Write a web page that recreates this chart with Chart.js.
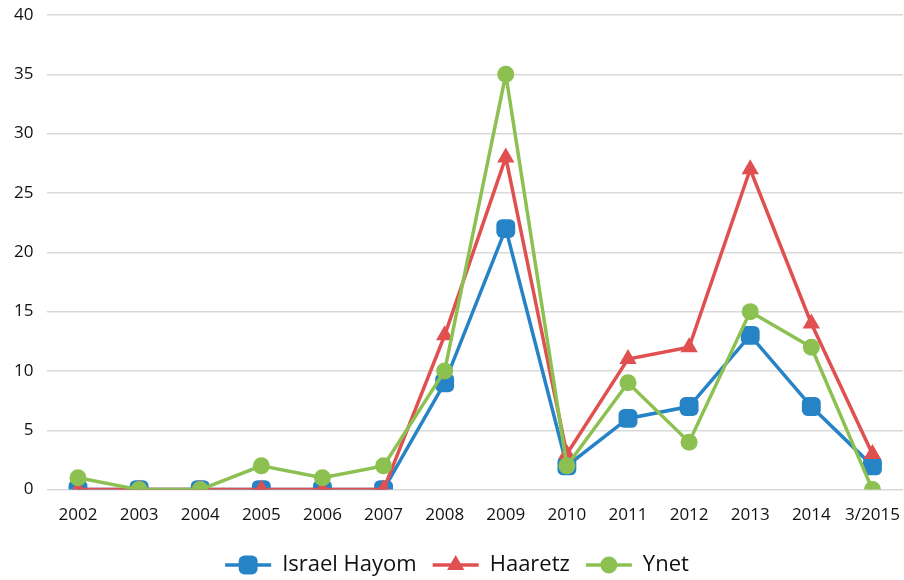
<!DOCTYPE html>
<html>
<head>
<meta charset="utf-8">
<script src="https://cdn.jsdelivr.net/npm/chart.js@4/dist/chart.umd.min.js"></script>
<style>
    html, body { margin: 0; padding: 0; background: #fff; overflow: hidden; }
    #wrap { width: 904px; height: 580px; overflow: hidden; }
</style>
</head>
<body>
<div id="wrap"><canvas id="chart" width="914" height="580"></canvas></div>
<script>
// Data
const years = ['2002', '2003', '2004', '2005', '2006', '2007', '2008', '2009', '2010', '2011', '2012', '2013', '2014', '3/2015'];
const israelHayom = [0, 0, 0, 0, 0, 0, 9, 22, 2, 6, 7, 13, 7, 2];
const haaretz = [0, 0, 0, 0, 0, 0, 13, 28, 3, 11, 12, 27, 14, 3];
const ynet = [1, 0, 0, 2, 1, 2, 10, 35, 2, 9, 4, 15, 12, 0];

const blue = '#2683c6';
const red = '#e05050';
const green = '#8cc152';
const fontFamily = "'Open Sans', 'DejaVu Sans', sans-serif";

function series(label, data, color, style, radius, order) {
    return {
        label: label,
        data: data,
        order: order,
        borderColor: color,
        backgroundColor: color,
        borderWidth: 3.5,
        pointStyle: style,
        pointRadius: radius,
        pointBorderWidth: 0,
        pointHoverRadius: radius,
        tension: 0
    };
}

// Draw Excel-like legend keys: a line with the marker on top
const legendKeys = {
    id: 'legendKeys',
    afterDraw(chart) {
        const legend = chart.legend;
        if (!legend || !legend.legendHitBoxes) return;
        const ctx = chart.ctx;
        const boxWidth = legend.options.labels.pointStyleWidth;
        legend.legendItems.forEach((item, i) => {
            const box = legend.legendHitBoxes[i];
            const ds = chart.data.datasets[item.datasetIndex];
            const cy = box.top + box.height / 2;
            ctx.save();
            ctx.strokeStyle = ds.borderColor;
            ctx.lineWidth = 3.5;
            ctx.beginPath();
            ctx.moveTo(box.left, cy);
            ctx.lineTo(box.left + boxWidth, cy);
            ctx.stroke();
            ctx.fillStyle = ds.backgroundColor;
            ctx.strokeStyle = ds.backgroundColor;
            Chart.helpers.drawPoint(ctx, {
                pointStyle: ds.pointStyle,
                radius: ds.pointRadius,
                borderWidth: 0,
                rotation: 0
            }, box.left + boxWidth / 2, cy);
            ctx.restore();
        });
    }
};

new Chart(document.getElementById('chart').getContext('2d'), {
    type: 'line',
    data: {
        labels: years,
        datasets: [
            series('Israel Hayom', israelHayom, blue, 'rectRounded', 11, 3),
            series('Haaretz', haaretz, red, 'triangle', 10, 2),
            series('Ynet', ynet, green, 'circle', 8.5, 1)
        ]
    },
    options: {
        responsive: false,
        animation: false,
        layout: { padding: { top: 15, right: 0, left: 0, bottom: -6 } },
        scales: {
            x: {
                offset: true,
                grid: { display: false },
                border: { display: false },
                ticks: {
                    color: '#111',
                    font: { family: fontFamily, size: 17 },
                    maxRotation: 0,
                    autoSkip: false,
                    padding: 7
                },
                afterFit(scale) {
                    scale.paddingRight = 0;
                    scale.height += 6;
                }
            },
            y: {
                min: 0,
                max: 40,
                ticks: {
                    stepSize: 5,
                    color: '#111',
                    font: { family: fontFamily, size: 17 },
                    padding: 14
                },
                grid: { color: '#d9d9d9', lineWidth: 1.5, drawTicks: false },
                border: { display: false },
                afterFit(scale) {
                    scale.paddingTop = 0;
                }
            }
        },
        plugins: {
            tooltip: { enabled: false },
            legend: {
                position: 'bottom',
                labels: {
                    usePointStyle: true,
                    pointStyleWidth: 46,
                    color: '#111',
                    font: { family: fontFamily, size: 22 },
                    padding: 16,
                    generateLabels(chart) {
                        const items = Chart.defaults.plugins.legend.labels.generateLabels(chart);
                        items.forEach(it => {
                            it.fillStyle = 'rgba(0,0,0,0)';
                            it.strokeStyle = 'rgba(0,0,0,0)';
                            it.lineWidth = 0;
                        });
                        return items.sort((a, b) => a.datasetIndex - b.datasetIndex);
                    }
                }
            }
        }
    },
    plugins: [legendKeys]
});
</script>
</body>
</html>
